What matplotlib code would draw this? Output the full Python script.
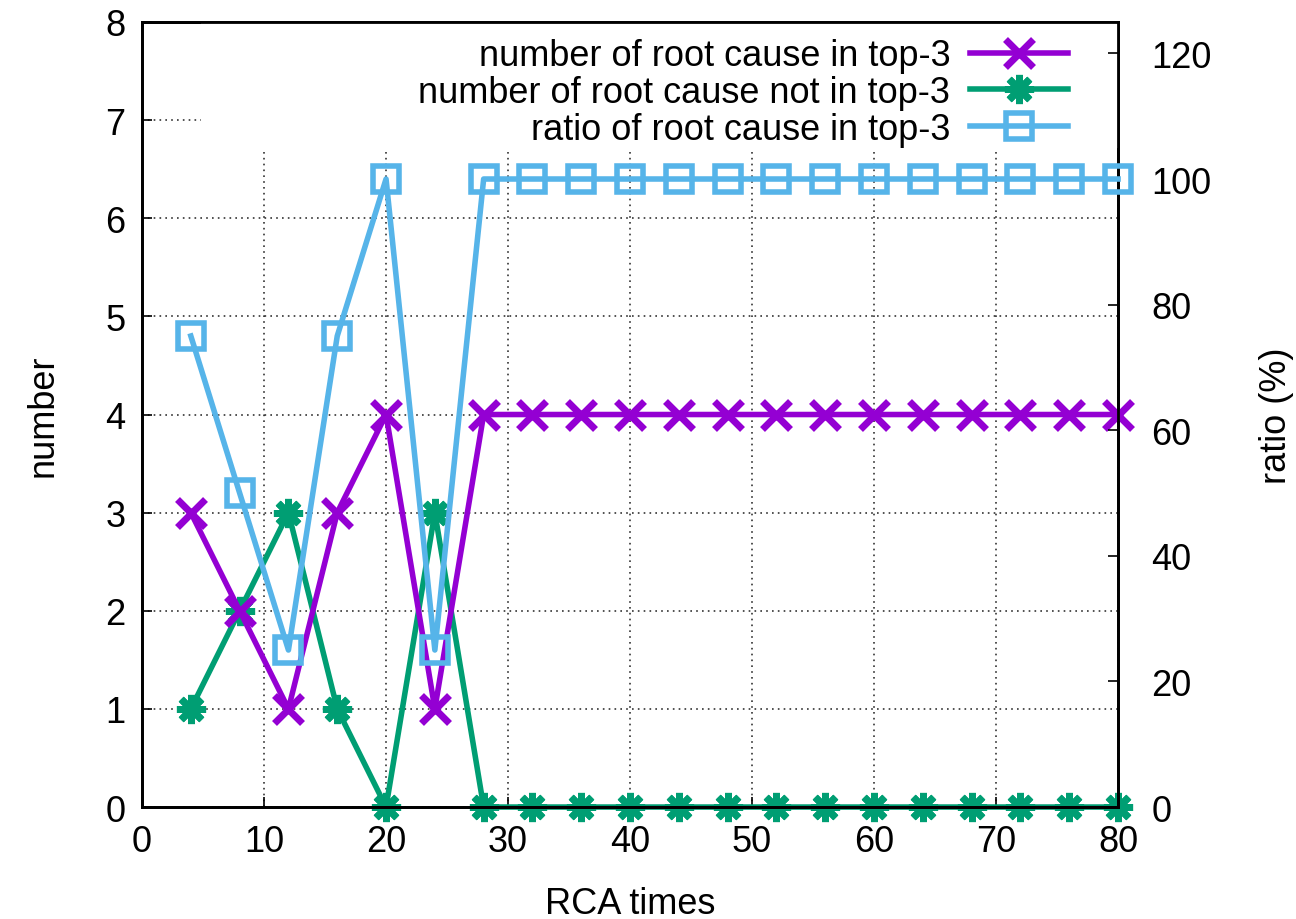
import numpy as np
import matplotlib
matplotlib.use("Agg")
import matplotlib.pyplot as plt
from matplotlib.patches import Rectangle

plt.rcParams["font.family"] = ["Liberation Sans", "DejaVu Sans"]

# data
rca_times = [4, 8, 12, 16, 20, 24, 28, 32, 36, 40, 44, 48, 52, 56, 60, 64, 68, 72, 76, 80]
in_top3 = [3, 2, 1, 3, 4, 1, 4, 4, 4, 4, 4, 4, 4, 4, 4, 4, 4, 4, 4, 4]
not_in_top3 = [1, 2, 3, 1, 0, 3, 0, 0, 0, 0, 0, 0, 0, 0, 0, 0, 0, 0, 0, 0]
ratio_top3 = [75, 50, 25, 75, 100, 25, 100, 100, 100, 100, 100, 100, 100, 100, 100, 100, 100, 100, 100, 100]

purple = "#9400D3"
green = "#009E73"
blue = "#56B4E9"
fs = 26

fig = plt.figure(figsize=(12.96, 9.2), dpi=100)
ax = fig.add_axes([0.1096, 0.1217, 0.7531, 0.8533])
ax2 = ax.twinx()

l1, = ax.plot(rca_times, in_top3, color=purple, lw=4, marker="x", ms=20, mew=5,
              clip_on=False, zorder=3, label="number of root cause in top-3")
l2, = ax.plot(rca_times, not_in_top3, color=green, lw=4, marker=(8, 2, 0), ms=21, mew=5,
              clip_on=False, zorder=2, label="number of root cause not in top-3")
l3, = ax2.plot(rca_times, ratio_top3, color=blue, lw=4, marker="s", ms=19, mew=4,
               mfc="none", clip_on=False, zorder=3, label="ratio of root cause in top-3")

ax.set_xlim(0, 80)
ax.set_ylim(0, 8)
ax2.set_ylim(0, 125)
ax.set_xticks(np.arange(0, 81, 10))
ax.set_yticks(np.arange(0, 9, 1))
ax2.set_yticks(np.arange(0, 121, 20))

ax.grid(True, color="black", linestyle=(0, (1, 2.5)), lw=1.2, alpha=0.8)

for a in (ax, ax2):
    for s in a.spines.values():
        s.set_linewidth(2)
ax.tick_params(axis="both", direction="in", length=7, width=1.2, labelsize=fs, pad=12,
               top=True)
ax2.tick_params(axis="y", direction="in", length=7, width=1.2, labelsize=fs, pad=24)

ax.set_xlabel("RCA times", fontsize=fs, labelpad=20)
ax.set_ylabel("number", fontsize=fs, labelpad=32)
ax2.set_ylabel("ratio (%)", fontsize=fs, labelpad=34)

# opaque key box like gnuplot
ax2.add_patch(Rectangle((0.06, 0.84), 0.94, 0.16, transform=ax2.transAxes,
                        facecolor="white", edgecolor="none", zorder=1))

leg = ax2.legend(handles=[l1, l2, l3], loc="upper right", bbox_to_anchor=(0.965, 1.0),
                 frameon=False, fontsize=fs, markerfirst=False, handlelength=2.7,
                 handletextpad=0.55, labelspacing=0.05, borderaxespad=0.1, borderpad=0.35)
leg.set_zorder(5)

fig.savefig("out.png", dpi=100)
